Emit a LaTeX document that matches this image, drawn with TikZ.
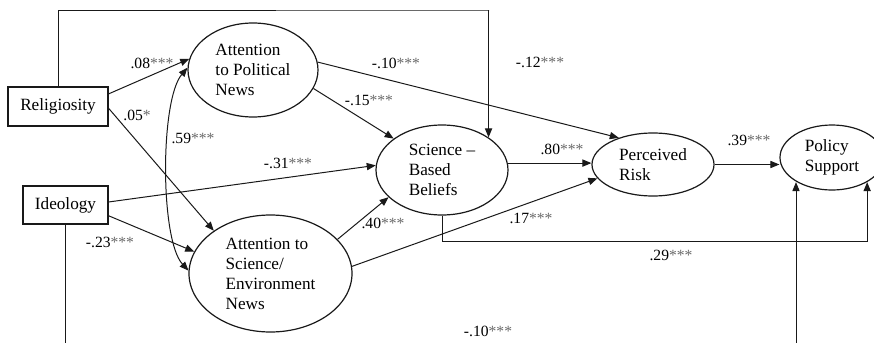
\documentclass[tikz,border=0pt]{standalone}
\usepackage{fontspec}
\setmainfont{Liberation Serif}
\usepackage{tikz}
\usetikzlibrary{shapes.geometric, arrows.meta, positioning, calc}
\definecolor{linecol}{RGB}{25,25,25}
\definecolor{stargray}{RGB}{105,105,105}
\tikzset{
    var/.style={rectangle, draw=linecol, line width=0.6pt, inner sep=0pt, minimum width=50pt, minimum height=19.5pt, font=\fontsize{8.6}{10}\selectfont},
    latent/.style={ellipse, draw=linecol, line width=0.6pt, inner sep=0pt, align=left, font=\fontsize{8.6}{10}\selectfont},
    arrow/.style={line width=0.5pt, -{Triangle[length=4.5pt, width=3.6pt]}, color=linecol},
    dblarrow/.style={line width=0.5pt, {Triangle[length=4.5pt, width=3.6pt]}-{Triangle[length=4.5pt, width=3.6pt]}, color=linecol},
    link/.style={line width=0.5pt, color=linecol},
    coef/.style={font=\fontsize{7.8}{9}\selectfont, inner sep=0pt}
}
\newcommand{\stars}[1]{\textcolor{stargray}{#1}}

\begin{document}
\begin{tikzpicture}[x=0.5pt, y=-0.5pt]
    \useasboundingbox (0,0) rectangle (874,343);
    % Nodes
    \node (rel) [var] at (58,106.5) {Religiosity};
    \node (ideo) [var, minimum width=42.5pt, minimum height=19pt] at (65.5,205) {Ideology};
    \node (attpol) [latent, minimum width=65pt, minimum height=47pt] at (253,70) {Attention\\to Political\\News};
    \node (attsci) [latent, minimum width=81.5pt, minimum height=58.5pt] at (270.5,273.5) {Attention to\\Science/\\Environment\\News};
    \node (scibel) [latent, minimum width=66pt, minimum height=45pt] at (442,170) {Science --\\Based\\Beliefs};
    \node (risk) [latent, minimum width=61pt, minimum height=31.5pt] at (653,164.5) {Perceived\\Risk};
    \node (policy) [latent, minimum width=52pt, minimum height=32.5pt] at (832,157.5) {Policy\\Support};

    % Route points
    \coordinate (toprow) at (489,10);
    \coordinate (lowrow) at (0,241);
    \coordinate (ideoout) at (65.5,343);
    \coordinate (polin) at (796,343);

    % Arrows
    \draw [arrow] (rel.14) -- (attpol.170);
    \draw [arrow] (rel.-2) -- (attsci.143);
    \draw [arrow] (rel.north) |- (toprow) -| (scibel.35);
    \draw [dblarrow] (attpol.178) .. controls (160,100) and (160,240) .. (attsci.178);
    \draw [arrow] (ideo.4) -- (scibel.176);
    \draw [arrow] (ideo.-14) -- (attsci.164);
    \draw [link] (ideo.south) -- (ideoout);
    \draw [arrow] (attpol.-17) -- (scibel.147);
    \draw [arrow] (attpol.7) -- (risk.142);
    \draw [arrow] (scibel.6) -- (scibel.6 -| risk.west);
    \draw [arrow] (attsci.27) -- (scibel.207);
    \draw [arrow] (attsci.5) -- (risk.-166);
    \draw [arrow] (risk.east) -- (risk.east -| policy.west);
    \draw [arrow] (scibel.south) |- (lowrow -| policy.325) -- (policy.325);
    \draw [arrow] (polin) -- (polin |- policy.215);

    % Coefficients
    \node (c08) [coef] at (152,63) {.08\stars{***}};
    \node (c05) [coef] at (137,115) {.05\stars{*}};
    \node (c59) [coef] at (193,138) {.59\stars{***}};
    \node (c31) [coef] at (288,163) {-.31\stars{***}};
    \node (c10a) [coef] at (396,63) {-.10\stars{***}};
    \node (c15) [coef] at (369,100) {-.15\stars{***}};
    \node (c12) [coef] at (540,62) {-.12\stars{***}};
    \node (c80) [coef] at (562,149) {.80\stars{***}};
    \node (c39) [coef] at (749,140) {.39\stars{***}};
    \node (c23) [coef] at (110,242) {-.23\stars{***}};
    \node (c40) [coef] at (383,223) {.40\stars{***}};
    \node (c17) [coef] at (531,218) {.17\stars{***}};
    \node (c29) [coef] at (671,255) {.29\stars{***}};
    \node (c10b) [coef] at (488,331) {-.10\stars{***}};
\end{tikzpicture}
\end{document}
